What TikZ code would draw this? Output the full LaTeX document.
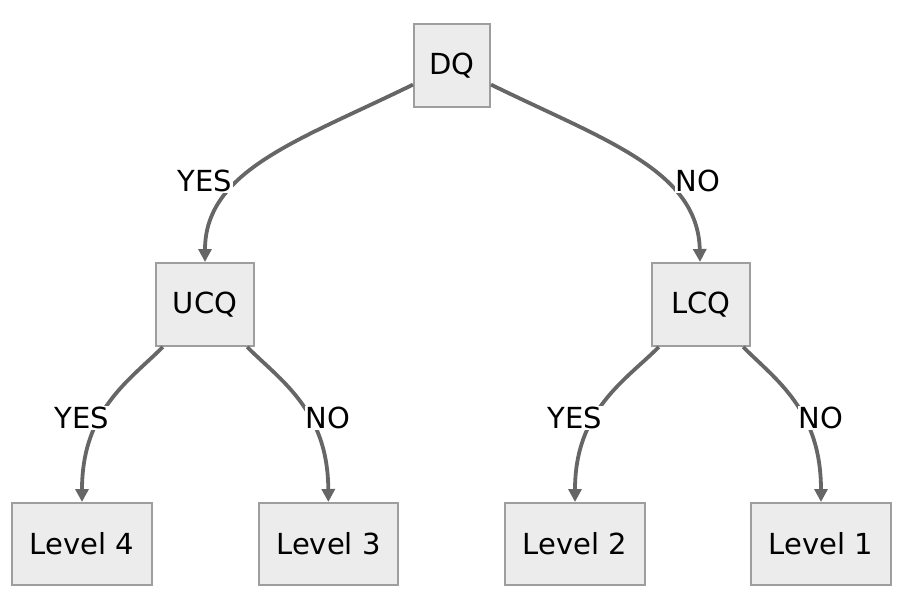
\documentclass[tikz,border=0pt]{standalone}
\usepackage{fontspec}
\setmainfont{DejaVu Sans}
\usetikzlibrary{arrows.meta}
\definecolor{boxfill}{HTML}{ECECEC}
\definecolor{boxline}{HTML}{9E9E9E}
\definecolor{edgecol}{HTML}{666666}
\tikzset{
  box/.style={draw=boxline, line width=2pt, fill=boxfill, inner sep=0pt, font=\fontsize{29}{35}\selectfont},
  edge/.style={draw=edgecol, line width=3.8pt, -{Triangle[length=13pt,width=13pt]}},
  lab/.style={fill=white, inner sep=1pt, font=\fontsize{29}{35}\selectfont}
}
\begin{document}
\begin{tikzpicture}[x=1pt,y=-1pt]
\useasboundingbox (0,0) rectangle (903,597);
\node[box, minimum width=76pt, minimum height=83pt] (DQ) at (452,65.5) {DQ};
\node[box, minimum width=98pt, minimum height=83pt] (UCQ) at (205,304.5) {UCQ};
\node[box, minimum width=98pt, minimum height=83pt] (LCQ) at (701,304.5) {LCQ};
\node[box, minimum width=140pt, minimum height=82pt] (L4) at (82,544) {Level 4};
\node[box, minimum width=139pt, minimum height=82pt] (L3) at (328.5,544) {Level 3};
\node[box, minimum width=140pt, minimum height=82pt] (L2) at (575,544) {Level 2};
\node[box, minimum width=140pt, minimum height=82pt] (L1) at (821,544) {Level 1};
\draw[edge] (DQ) .. controls (300,140) and (205,170) .. (UCQ);
\draw[edge] (DQ) .. controls (604,140) and (698,170) .. (LCQ);
\draw[edge] (UCQ) .. controls (130,380) and (82,410) .. (L4);
\draw[edge] (UCQ) .. controls (280,380) and (328,410) .. (L3);
\draw[edge] (LCQ) .. controls (626,380) and (575,410) .. (L2);
\draw[edge] (LCQ) .. controls (776,380) and (821,410) .. (L1);
\node[lab] (y1) at (205,181) {YES};
\node[lab] (n1) at (698,181) {NO};
\node[lab] (y2) at (82,418) {YES};
\node[lab] (n2) at (328,418) {NO};
\node[lab] (y3) at (575,418) {YES};
\node[lab] (n3) at (821,418) {NO};
\end{tikzpicture}
\end{document}
